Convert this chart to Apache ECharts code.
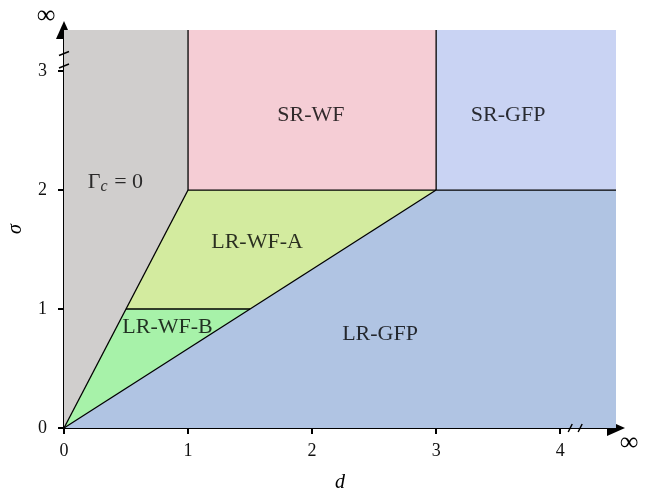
<!DOCTYPE html>
<html><head><meta charset="utf-8">
<script src="https://cdn.jsdelivr.net/npm/echarts@6/dist/echarts.min.js"></script>
<style>html,body{margin:0;padding:0;background:#fff;overflow:hidden}#c{width:647px;height:492px}</style>
</head><body><div id="c"></div>
<script>
const X_MAX = 4.45, Y_MAX = 3.345;
const xTicks = [0, 1, 2, 3, 4];
const yTicks = [0, 1, 2, 3];
const regionGamma = [[0,0],[1,2],[1,Y_MAX],[0,Y_MAX]];
const regionSRWF  = [[1,2],[3,2],[3,Y_MAX],[1,Y_MAX]];
const regionSRGFP = [[3,2],[X_MAX,2],[X_MAX,Y_MAX],[3,Y_MAX]];
const regionLRWFA = [[0.5,1],[1,2],[3,2],[1.5,1]];
const regionLRWFB = [[0,0],[0.5,1],[1.5,1]];
const regionLRGFP = [[0,0],[3,2],[X_MAX,2],[X_MAX,0]];
const boundaries = [[0,0,1,2],[1,2,1,Y_MAX],[1,2,3,2],[3,2,3,Y_MAX],[3,2,X_MAX,2],[0,0,3,2],[0.5,1,1.5,1]];
const labelNames = ['SR-WF', 'SR-GFP', 'LR-WF-A', 'LR-WF-B', 'LR-GFP'];
const labelX = [1.99, 3.58, 1.556, 0.835, 2.548];
const labelY = [2.63, 2.63, 1.563, 0.845, 0.784];
const gammaPos = [0.415, 2.067];
const xBreaks = [4.081, 4.161];
const yBreaks = [3.042, 3.147];

const FONT = '"Liberation Serif","Times New Roman",serif';
const regions = [regionGamma, regionSRWF, regionSRGFP, regionLRWFA, regionLRWFB, regionLRGFP];
const regionColors = ['#d0cecd', '#f5cdd5', '#c9d3f3', '#d3eb9f', '#a7f2a9', '#b0c4e3'];

const series = regions.map((pts, i) => ({
  type: 'custom', coordinateSystem: 'cartesian2d', silent: true, z: 1,
  data: [pts[0]],
  renderItem: (params, api) => ({
    type: 'polygon',
    shape: { points: pts.map(p => api.coord(p)) },
    style: { fill: regionColors[i] }
  })
}));

series.push({
  type: 'custom', coordinateSystem: 'cartesian2d', silent: true, z: 2,
  data: boundaries,
  encode: { x: [0, 2], y: [1, 3] },
  renderItem: (params, api) => {
    const a = api.coord([api.value(0), api.value(1)]);
    const b = api.coord([api.value(2), api.value(3)]);
    return { type: 'line', shape: { x1: a[0], y1: a[1], x2: b[0], y2: b[1] },
      style: { stroke: '#000', lineWidth: 1.3 } };
  }
});

series.push({
  type: 'custom', coordinateSystem: 'cartesian2d', silent: true, z: 5, clip: false,
  data: xBreaks.map(v => [v, 0]).concat(yBreaks.map(v => [0, v])),
  renderItem: (params, api) => {
    const p = api.coord([api.value(0), api.value(1)]);
    const onX = params.dataIndex < xBreaks.length;
    const dx = onX ? 2 : 5, dy = onX ? 4 : 2;
    return { type: 'line', shape: { x1: p[0] - dx, y1: p[1] + dy, x2: p[0] + dx, y2: p[1] - dy },
      style: { stroke: '#000', lineWidth: 1.5 } };
  }
});

series.push({
  type: 'scatter', symbolSize: 0, silent: true, z: 10,
  data: labelNames.map((n, i) => ({ name: n, value: [labelX[i], labelY[i]] })),
  label: { show: true, position: 'inside', formatter: p => p.name,
    fontFamily: FONT, fontSize: 22, color: '#000', textBorderWidth: 0 }
});

series.push({
  type: 'scatter', symbolSize: 0, silent: true, z: 10,
  data: [gammaPos],
  label: { show: true, position: 'inside', textBorderWidth: 0,
    formatter: '{a|Γ}{b|c}{a| = 0}',
    rich: {
      a: { fontFamily: FONT, fontSize: 22, color: '#000', lineHeight: 26 },
      b: { fontFamily: FONT, fontSize: 16, fontStyle: 'italic', color: '#000', padding: [10, 1, 0, 0], lineHeight: 16 }
    } }
});

const axisCommon = {
  type: 'value', splitLine: { show: false },
  axisLine: { show: true, onZero: false, symbol: ['none', 'triangle'], symbolSize: [16, 18],
    lineStyle: { color: '#000', width: 2 } },
  axisTick: { show: true, length: 6, lineStyle: { color: '#000', width: 2 } },
  nameLocation: 'middle',
  nameTextStyle: { fontFamily: FONT, fontSize: 20, fontStyle: 'italic', color: '#000' }
};

const option = {
  animation: false,
  grid: { left: 64, right: 31, top: 30, bottom: 64, containLabel: false, outerBoundsMode: 'none' },
  xAxis: Object.assign({}, axisCommon, {
    min: 0, max: X_MAX, name: 'd', nameGap: 45,
    axisTick: Object.assign({}, axisCommon.axisTick, { customValues: xTicks }),
    axisLabel: { customValues: xTicks, margin: 14, fontFamily: FONT, fontSize: 18, color: '#111' }
  }),
  yAxis: Object.assign({}, axisCommon, {
    min: 0, max: Y_MAX, name: 'σ', nameGap: 38,
    axisTick: Object.assign({}, axisCommon.axisTick, { customValues: yTicks }),
    axisLabel: { customValues: yTicks, margin: 17, fontFamily: FONT, fontSize: 18, color: '#111' }
  }),
  graphic: [
    { type: 'text', x: 46, y: 16, z: 100, style: { text: '∞', font: '26px ' + FONT, fill: '#000', textAlign: 'center', textVerticalAlign: 'middle' } },
    { type: 'text', x: 629, y: 443, z: 100, style: { text: '∞', font: '26px ' + FONT, fill: '#000', textAlign: 'center', textVerticalAlign: 'middle' } }
  ],
  series: series
};

const chart = echarts.init(document.getElementById('c'), null, { renderer: 'canvas' });
chart.setOption(option);
</script>
</body></html>
